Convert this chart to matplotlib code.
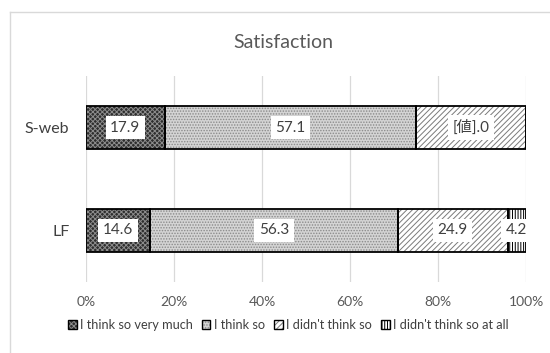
import matplotlib.pyplot as plt
from matplotlib.lines import Line2D
from matplotlib.patches import Patch

plt.rcParams['font.family'] = ['Lato', 'Noto Sans CJK JP', 'DejaVu Sans']
plt.rcParams['hatch.linewidth'] = 0.7

# data
groups = ['LF', 'S-web']
series = ['I think so very much', 'I think so', "I didn't think so", "I didn't think so at all"]
very_much = [14.6, 17.9]
think_so = [56.3, 57.1]
didnt = [24.9, 25.0]
not_at_all = [4.2, 0.0]
labels = [['14.6', '56.3', '24.9', '4.2'],
          ['17.9', '57.1', '[値].0', '']]
xticks = [0, 20, 40, 60, 80, 100]
xticklabels = ['0%', '20%', '40%', '60%', '80%', '100%']

styles = [
    dict(color='#2e2e2e', hatch='xxxxxxx', ec='#8c8c8c'),
    dict(color='#d4d4d4', hatch='......', ec='#8a8a8a'),
    dict(color='white', hatch='//////', ec='#7a7a7a'),
    dict(color='white', hatch='||||||', ec='#000000'),
]

fig = plt.figure(figsize=(5.5, 3.53), dpi=100)
ax = fig.add_axes([86 / 550, 1 - 282 / 353, 440 / 550, 206 / 353])

ypos = [0, 1]
h = 0.41
left = [0, 0]
handles = []
for i, vals in enumerate([very_much, think_so, didnt, not_at_all]):
    st = styles[i]
    ax.barh(ypos, vals, height=h, left=left, color=st['color'], hatch=st['hatch'],
            edgecolor=st['ec'], linewidth=0, zorder=2)
    ax.barh(ypos, vals, height=h, left=left, fill=False, edgecolor='black',
            linewidth=1.3, zorder=3)
    handles.append((Patch(facecolor=st['color'], hatch=st['hatch'], edgecolor=st['ec'], linewidth=0),
                    Patch(fill=False, edgecolor='black', linewidth=1.0)))
    for j in range(2):
        txt = labels[j][i]
        if txt:
            ax.text(left[j] + vals[j] / 2, ypos[j], txt, ha='center', va='center',
                    fontsize=11, color='#404040', zorder=4,
                    bbox=dict(boxstyle='square,pad=0.3', fc='white', ec='none'))
    left = [left[k] + vals[k] for k in range(2)]

ax.set_xlim(0, 100)
ax.set_ylim(-0.5, 1.5)
ax.set_xticks(xticks)
ax.set_xticklabels(xticklabels)
ax.set_yticks(ypos)
ax.set_yticklabels(groups)
ax.tick_params(axis='x', length=0, labelsize=10, labelcolor='#595959', pad=10)
ax.tick_params(axis='y', length=0, labelsize=11.5, labelcolor='#404040', pad=12)
ax.grid(axis='x', color='#d9d9d9', linewidth=0.9, zorder=0)
ax.set_axisbelow(True)
for s in ax.spines.values():
    s.set_visible(False)

fig.text(0.5 + 8 / 550, 1 - 42 / 353, 'Satisfaction', ha='center', va='center',
         fontsize=14, color='#595959')

leg = fig.legend(handles=handles, labels=series, loc='center',
                 bbox_to_anchor=(0.5 + 13 / 550, 1 - 325 / 353),
                 ncol=4, frameon=False, fontsize=9.2, handlelength=0.7, handleheight=0.7,
                 handletextpad=0.25, columnspacing=0.7, borderaxespad=0)
for t in leg.get_texts():
    t.set_color('#404040')

# chart frame (partly cut off)
fig.add_artist(Line2D([10 / 550, 10 / 550], [0, 1 - 11.5 / 353], transform=fig.transFigure,
                      color='#d9d9d9', linewidth=1))
fig.add_artist(Line2D([10 / 550, 1], [1 - 11.5 / 353, 1 - 11.5 / 353], transform=fig.transFigure,
                      color='#d9d9d9', linewidth=1))

fig.savefig('out.png', dpi=100)
